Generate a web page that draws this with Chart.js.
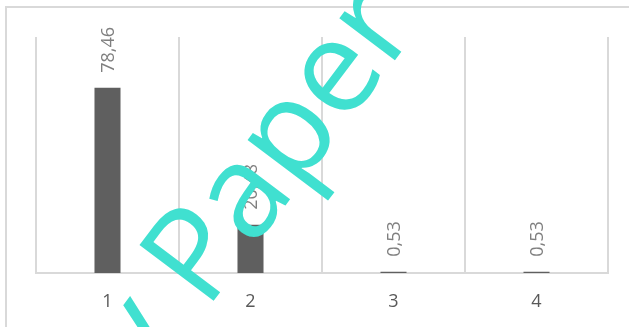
<!DOCTYPE html>
<html>
<head>
<meta charset="utf-8">
<script src="https://cdn.jsdelivr.net/npm/chart.js@4/dist/chart.umd.min.js"></script>
<style>
  html, body { margin: 0; padding: 0; background: #fff; }
  #wrap { width: 629px; height: 327px; }
</style>
</head>
<body>
<div id="wrap"><canvas id="myChart" width="629" height="327"></canvas></div>
<script>
const categories = ['1', '2', '3', '4'];
const values = [78.46, 20.48, 0.53, 0.53];
const valueLabels = ['78,46', '20,48', '0,53', '0,53'];

// light frame around the whole chart
const frame = {
  id: 'frame',
  beforeDraw(chart) {
    const ctx = chart.ctx;
    ctx.save();
    ctx.strokeStyle = '#d9d9d9';
    ctx.lineWidth = 2;
    ctx.strokeRect(6, 7, 700, 400);
    ctx.restore();
  }
};

// rotated value text above each bar
const barValues = {
  id: 'barValues',
  afterDatasetsDraw(chart) {
    const ctx = chart.ctx;
    const meta = chart.getDatasetMeta(0);
    ctx.save();
    ctx.fillStyle = '#7f7f7f';
    ctx.font = '18px "Open Sans"';
    ctx.textAlign = 'left';
    ctx.textBaseline = 'middle';
    meta.data.forEach((bar, i) => {
      ctx.save();
      ctx.translate(bar.x + 1, bar.y - 15);
      ctx.rotate(-Math.PI / 2);
      ctx.fillText(valueLabels[i], 0, 0);
      ctx.restore();
    });
    ctx.restore();
  }
};

// stamp text across the chart
const stamp = {
  id: 'stamp',
  afterDraw(chart) {
    const ctx = chart.ctx;
    ctx.save();
    ctx.fillStyle = '#40e0d0';
    ctx.font = '130px "Open Sans"';
    ctx.textBaseline = 'alphabetic';
    ctx.translate(206, 311);
    ctx.rotate(-53 * Math.PI / 180);
    ctx.textAlign = 'left';
    ctx.fillText('Paper', 0, 0);
    ctx.textAlign = 'right';
    ctx.fillText('My ', 0, 0);
    ctx.restore();
  }
};

const data = {
  labels: categories,
  datasets: [{
    data: values,
    backgroundColor: '#5f5f5f',
    categoryPercentage: 1,
    barPercentage: 0.182
  }]
};

const config = {
  type: 'bar',
  data: data,
  plugins: [frame, barValues, stamp],
  options: {
    responsive: false,
    animation: false,
    layout: { padding: { left: 36, right: 21, top: 37, bottom: 0 } },
    plugins: { legend: { display: false }, tooltip: { enabled: false } },
    scales: {
      y: { display: false, min: 0, max: 100 },
      x: {
        afterFit(scale) { scale.height = 54; },
        grid: { color: '#d9d9d9', lineWidth: 2, drawTicks: false, offset: true },
        border: { color: '#d9d9d9', width: 2 },
        ticks: { color: '#595959', padding: 18, font: { size: 18, family: '"Open Sans"' } }
      }
    }
  }
};

const myChart = new Chart(document.getElementById('myChart'), config);
</script>
</body>
</html>
